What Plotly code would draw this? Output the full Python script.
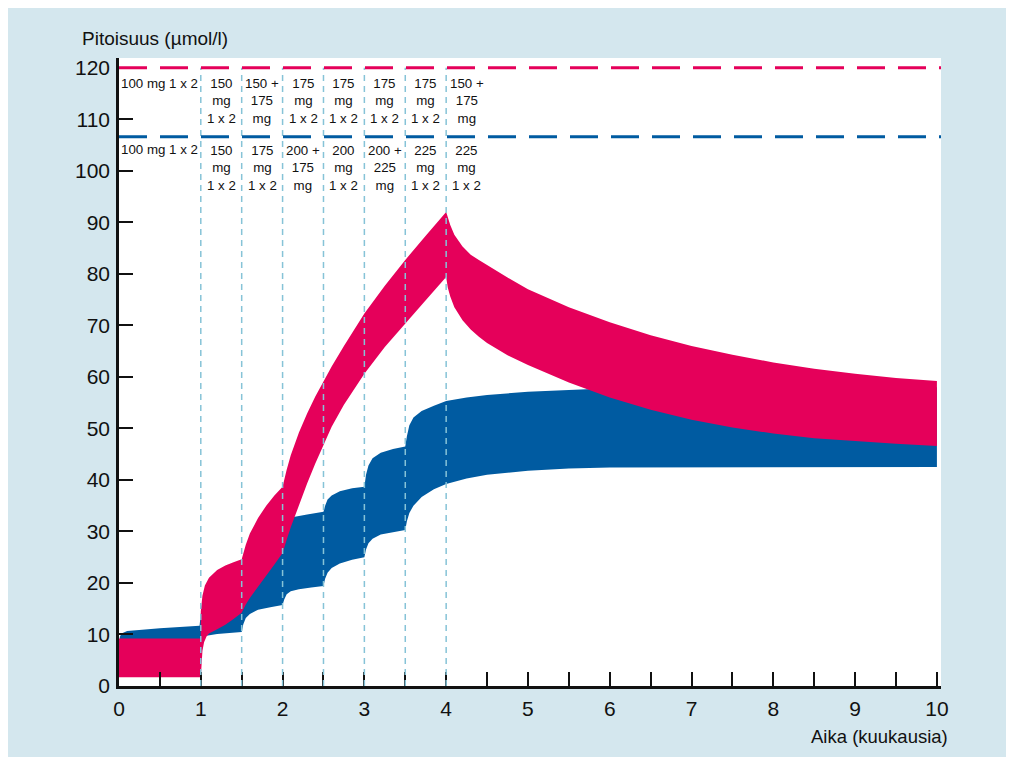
import plotly.graph_objects as go

# ---------------- data ----------------
pink_up_t = [0, 1.0, 1.0, 1.02, 1.05, 1.1, 1.2, 1.3, 1.4, 1.5, 1.55, 1.6, 1.7, 1.8, 1.9, 2.0,
             2.05, 2.1, 2.2, 2.3, 2.4, 2.5, 2.6, 2.75, 3.0, 3.25, 3.5, 3.75, 4.0,
             4.05, 4.1, 4.2, 4.3, 4.4, 4.5, 4.75, 5.0, 5.5, 6.0, 6.5, 7.0, 7.5, 8.0, 8.5, 9.0, 9.5, 10.0]
pink_up_v = [9.2, 9.2, 14.5, 17.5, 19.5, 21.0, 22.5, 23.4, 24.0, 24.6, 27.4, 29.6, 32.6, 35.0, 37.0, 38.7,
             42.0, 44.8, 49.2, 52.9, 56.2, 59.2, 62.0, 66.0, 72.3, 77.7, 82.7, 87.4, 92.0,
             89.5, 87.6, 85.3, 83.7, 82.7, 81.7, 79.3, 77.0, 73.5, 70.6, 68.1, 66.0, 64.3, 62.8, 61.6, 60.6, 59.8, 59.2]

pink_lo_t = [0, 1.0, 1.005, 1.02, 1.04, 1.07, 1.1, 1.2, 1.3, 1.4, 1.5, 1.55, 1.6, 1.7, 1.8, 1.9, 2.0,
             2.05, 2.1, 2.2, 2.3, 2.4, 2.5, 2.6, 2.75, 3.0, 3.25, 3.5, 3.75, 4.0,
             4.02, 4.05, 4.1, 4.2, 4.3, 4.4, 4.5, 4.75, 5.0, 5.5, 6.0, 6.5, 7.0, 7.5, 8.0, 8.5, 9.0, 9.5, 10.0]
pink_lo_v = [1.7, 1.7, 4.0, 6.8, 8.5, 9.6, 10.2, 11.0, 11.9, 13.0, 14.2, 15.8, 17.1, 19.3, 21.5, 23.6, 25.8,
             28.4, 30.8, 35.2, 39.3, 43.2, 46.9, 50.3, 54.6, 60.6, 65.8, 70.3, 74.9, 79.4,
             77.3, 75.6, 73.5, 71.0, 69.2, 67.8, 66.6, 64.2, 62.3, 58.9, 56.0, 53.6, 51.7, 50.2, 49.0, 48.1, 47.5, 47.0, 46.6]

blue_up_t = [0, 0.01, 0.03, 0.1, 0.5, 0.985, 1.0, 1.02, 1.05, 1.1, 1.3, 1.5, 1.55, 1.75, 2.0,
             2.02, 2.05, 2.1, 2.3, 2.5, 2.52, 2.55, 2.6, 2.7, 2.85, 3.0,
             3.02, 3.05, 3.1, 3.2, 3.35, 3.5, 3.52, 3.55, 3.6, 3.7, 3.85, 4.0,
             4.25, 4.5, 5.0, 5.5, 6.0, 7.0, 8.0, 10.0]
blue_up_v = [7.5, 9.5, 10.2, 10.7, 11.2, 11.7, 14.0, 16.5, 18.0, 19.2, 20.8, 22.0, 25.5, 28.5, 30.5,
             31.5, 32.3, 32.7, 33.3, 33.8, 35.0, 36.2, 37.0, 37.8, 38.4, 38.7,
             41.0, 42.8, 44.2, 45.3, 46.0, 46.5, 48.5, 50.6, 52.1, 53.4, 54.4, 55.3,
             56.0, 56.5, 57.1, 57.5, 57.8, 58.0, 58.0, 58.0]

blue_lo_t = [0, 0.05, 0.985, 1.05, 1.2, 1.5, 1.52, 1.55, 1.6, 1.7, 1.85, 2.0,
             2.02, 2.05, 2.1, 2.2, 2.35, 2.5, 2.52, 2.55, 2.6, 2.7, 2.85, 3.0,
             3.02, 3.05, 3.1, 3.2, 3.35, 3.5, 3.52, 3.55, 3.6, 3.7, 3.85, 4.0,
             4.25, 4.5, 5.0, 5.5, 6.0, 7.0, 10.0]
blue_lo_v = [7.5, 8.0, 8.5, 9.7, 10.1, 10.5, 12.0, 13.2, 14.0, 14.8, 15.3, 15.7,
             16.8, 17.8, 18.4, 18.8, 19.1, 19.4, 20.8, 22.0, 22.9, 23.8, 24.5, 25.0,
             26.5, 27.7, 28.6, 29.4, 29.9, 30.3, 32.0, 33.6, 35.0, 36.7, 38.2, 39.2,
             40.3, 41.0, 41.8, 42.2, 42.4, 42.5, 42.5]

limit_pink = 120
limit_blue = 106.6
dose_change_times = [1, 1.5, 2, 2.5, 3, 3.5, 4]

interval_centers = [0.5, 1.25, 1.75, 2.25, 2.75, 3.25, 3.75, 4.25]
pink_doses = ["100 mg 1 x 2", "150<br>mg<br>1 x 2", "150 +<br>175<br>mg", "175<br>mg<br>1 x 2",
              "175<br>mg<br>1 x 2", "175<br>mg<br>1 x 2", "175<br>mg<br>1 x 2", "150 +<br>175<br>mg"]
blue_doses = ["100 mg 1 x 2", "150<br>mg<br>1 x 2", "175<br>mg<br>1 x 2", "200 +<br>175<br>mg",
              "200<br>mg<br>1 x 2", "200 +<br>225<br>mg", "225<br>mg<br>1 x 2", "225<br>mg<br>1 x 2"]

x_ticks = [0, 0.5, 1, 1.5, 2, 2.5, 3, 3.5, 4, 4.5, 5, 5.5, 6, 6.5, 7, 7.5, 8, 8.5, 9, 9.5, 10]
x_ticktext = ["0", "", "1", "", "2", "", "3", "", "4", "", "5", "", "6", "", "7", "", "8", "", "9", "", "10"]
y_ticks = [0, 10, 20, 30, 40, 50, 60, 70, 80, 90, 100, 110, 120]

# ---------------- style ----------------
PINK = "#e5005a"
BLUE = "#005ba1"
BG = "#d4e7ee"
VLINE = "#86c3d7"
FONT = "Liberation Sans Narrow, Liberation Sans, Arial, sans-serif"

W, H = 1006, 749
L, R, T, B = 111, 73, 50, 71
PW, PH = W - L - R, H - T - B


def band(up_t, up_v, lo_t, lo_v):
    xs = list(up_t) + list(reversed(lo_t))
    ys = list(up_v) + list(reversed(lo_v))
    return xs, ys


fig = go.Figure()
bx, by = band(blue_up_t, blue_up_v, blue_lo_t, blue_lo_v)
fig.add_trace(go.Scatter(x=bx, y=by, fill="toself", fillcolor=BLUE, mode="lines",
                         line=dict(width=0, color=BLUE), hoverinfo="skip", showlegend=False))
px_, py_ = band(pink_up_t, pink_up_v, pink_lo_t, pink_lo_v)
fig.add_trace(go.Scatter(x=px_, y=py_, fill="toself", fillcolor=PINK, mode="lines",
                         line=dict(width=0, color=PINK), hoverinfo="skip", showlegend=False))

shapes = []
# white plot area
shapes.append(dict(type="rect", xref="paper", yref="paper", x0=0, x1=1, y0=0, y1=1,
                   fillcolor="white", line=dict(width=0), layer="below"))
for t in dose_change_times:
    shapes.append(dict(type="line", xref="x", yref="y", x0=t, x1=t, y0=0, y1=limit_pink,
                       line=dict(color=VLINE, width=1.5, dash="6px,5px"), layer="above"))
shapes.append(dict(type="line", xref="paper", yref="y", x0=0, x1=1, y0=limit_pink, y1=limit_pink,
                   line=dict(color=PINK, width=3, dash="28px,13px")))
shapes.append(dict(type="line", xref="paper", yref="y", x0=0, x1=1, y0=limit_blue, y1=limit_blue,
                   line=dict(color=BLUE, width=3, dash="28px,13px")))

annotations = []
for xc, txt in zip(interval_centers, pink_doses):
    single = "<br>" not in txt
    annotations.append(dict(x=xc, y=116.9 if single else 113.6, xref="x", yref="y", text=txt,
                            showarrow=False, xanchor="center", yanchor="middle",
                            font=dict(family=FONT, size=13.3, color="#111")))
for xc, txt in zip(interval_centers, blue_doses):
    single = "<br>" not in txt
    annotations.append(dict(x=xc, y=104.1 if single else 100.6, xref="x", yref="y", text=txt,
                            showarrow=False, xanchor="center", yanchor="middle",
                            font=dict(family=FONT, size=13.3, color="#111")))
annotations.append(dict(x=(72 - L) / PW, y=(H - B - 30) / PH, xref="paper", yref="paper",
                        text="Pitoisuus (µmol/l)", showarrow=False, xanchor="left", yanchor="middle",
                        font=dict(family=FONT, size=19, color="#111")))
annotations.append(dict(x=(942 - L) / PW, y=(H - B - 728) / PH, xref="paper", yref="paper",
                        text="Aika (kuukausia)", showarrow=False, xanchor="right", yanchor="middle",
                        font=dict(family=FONT, size=18.5, color="#111")))

fig.update_layout(
    width=W, height=H,
    margin=dict(l=L, r=R, t=T, b=B, pad=0),
    paper_bgcolor=BG, plot_bgcolor="rgba(0,0,0,0)",
    shapes=shapes, annotations=annotations,
    showlegend=False,
    font=dict(family=FONT, size=20, color="#111"),
)
fig.update_xaxes(range=[0, 10.05], tickvals=x_ticks, ticktext=x_ticktext, ticks="inside", ticklen=14,
                 tickwidth=2, tickcolor="#111", showline=True, linecolor="#111", linewidth=2.5,
                 showgrid=False, zeroline=False, ticklabelstandoff=2,
                 tickfont=dict(family=FONT, size=21, color="#111"))
fig.update_yaxes(range=[0, 121.9], tickvals=y_ticks, ticks="inside", ticklen=14,
                 tickwidth=2, tickcolor="#111", showline=True, linecolor="#111", linewidth=2.5,
                 showgrid=False, zeroline=False, ticklabelstandoff=2,
                 tickfont=dict(family=FONT, size=21, color="#111"))

fig.write_html("out.html")
